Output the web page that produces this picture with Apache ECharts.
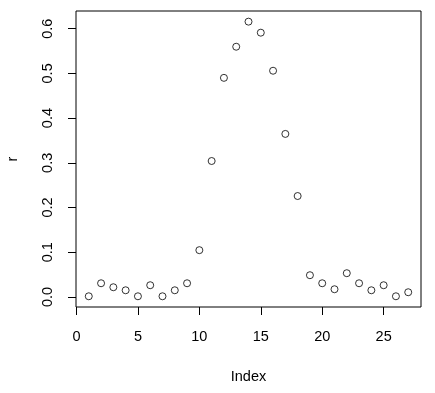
<!DOCTYPE html>
<html>
<head>
<meta charset="utf-8">
<script src="https://cdn.jsdelivr.net/npm/echarts@6/dist/echarts.min.js"></script>
<style>
html,body{margin:0;padding:0;background:#fff;}
#chart{width:435px;height:393px;}
</style>
</head>
<body>
<div id="chart"></div>
<script>
var indexValues = [1,2,3,4,5,6,7,8,9,10,11,12,13,14,15,16,17,18,19,20,21,22,23,24,25,26,27];
var rValues = [0.0015,0.0306,0.0217,0.0149,0.0015,0.0262,0.0015,0.0149,0.0306,0.1046,0.304,0.490,0.5596,0.6157,0.591,0.5059,0.3646,0.2257,0.0486,0.0306,0.0172,0.0531,0.0306,0.0149,0.0262,0.0015,0.0105];
var xTicks = [0,5,10,15,20,25];
var yTicks = [0,0.1,0.2,0.3,0.4,0.5,0.6];

var points = indexValues.map(function(x,i){return [x, rValues[i]];});
var font = 'Liberation Sans, Arial, sans-serif';

var chart = echarts.init(document.getElementById('chart'), null, {renderer:'canvas'});
chart.setOption({
  animation:false,
  backgroundColor:'#fff',
  grid:{left:76,right:14,top:11,bottom:86,show:true,borderColor:'#000',borderWidth:1,backgroundColor:'transparent',containLabel:false,outerBoundsMode:'none'},
  xAxis:{
    type:'value', min:-0.04, max:28.04,
    axisLine:{show:false,onZero:false},
    splitLine:{show:false},
    axisTick:{show:true,inside:false,length:8,lineStyle:{color:'#000'},customValues:xTicks},
    axisLabel:{color:'#000',fontFamily:font,fontSize:14.5,margin:22,customValues:xTicks,formatter:function(v){return String(v);}},
    name:'Index', nameLocation:'middle', nameGap:62,
    nameTextStyle:{color:'#000',fontFamily:font,fontSize:14.5}
  },
  yAxis:{
    type:'value', min:-0.0225, max:0.6395,
    axisLine:{show:false,onZero:false},
    splitLine:{show:false},
    axisTick:{show:true,inside:false,length:8,lineStyle:{color:'#000'},customValues:yTicks},
    axisLabel:{color:'#000',fontFamily:font,fontSize:14.5,margin:21,rotate:90,customValues:yTicks,formatter:function(v){return v.toFixed(1);}},
    name:'r', nameLocation:'middle', nameGap:56,
    nameTextStyle:{color:'#000',fontFamily:font,fontSize:14.5}
  },
  series:[{
    type:'scatter',
    data:points,
    symbol:'circle',
    symbolSize:7,
    itemStyle:{color:'transparent',borderColor:'#000',borderWidth:1}
  }]
});
</script>
</body>
</html>
